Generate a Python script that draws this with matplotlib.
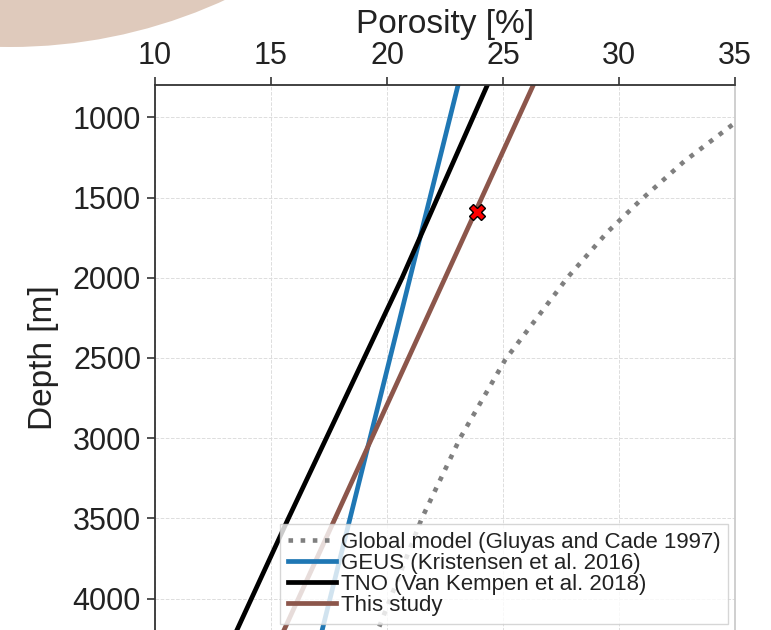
import matplotlib
matplotlib.use("Agg")
import matplotlib.pyplot as plt
from matplotlib.patches import Ellipse

# porosity-depth trends (depth in m, porosity in %)
depth_global = [800, 1050, 1275, 1520, 1715, 1995, 2510, 3000, 3500, 4200]
poro_global = [37.3, 34.85, 32.8, 30.9, 29.5, 27.8, 25.1, 23.15, 21.5, 19.6]

depth_geus = [800, 4200]
poro_geus = [23.06, 17.2]

depth_tno = [800, 2000, 3500, 4200]
poro_tno = [24.32, 20.65, 15.75, 13.52]

depth_study = [800, 4200]
poro_study = [26.30, 15.55]

# measured sample
sample_depth = [1590]
sample_poro = [23.9]

labels = [
    "Global model (Gluyas and Cade 1997)",
    "GEUS (Kristensen et al. 2016)",
    "TNO (Van Kempen et al. 2018)",
    "This study",
]
xticks = [10, 15, 20, 25, 30, 35]
yticks = [1000, 1500, 2000, 2500, 3000, 3500, 4000]

plt.rcParams["font.family"] = ["Liberation Sans", "DejaVu Sans"]

fig = plt.figure(figsize=(7.71, 6.3), dpi=100)

# decorative disc in the top-left corner
fig.patches.append(Ellipse((10 / 771, 1 + 468 / 630), 2 * 515 / 771, 2 * 515 / 630,
                           transform=fig.transFigure, facecolor="#dfcabc",
                           edgecolor="none", zorder=0))

ax = fig.add_axes([155 / 771, -0.001, 580 / 771, 0.8655])

ax.plot(poro_global, depth_global, ls=":", lw=3.3, color="#7f7f7f", label=labels[0])
ax.plot(poro_geus, depth_geus, lw=3.4, color="#1f77b4", label=labels[1])
ax.plot(poro_tno, depth_tno, lw=3.4, color="black", label=labels[2])
ax.plot(poro_study, depth_study, lw=3.4, color="#8c564b", label=labels[3])
ax.plot(sample_poro, sample_depth, ls="none", marker="X", ms=12,
        color="red", mec="black", mew=1, zorder=5)

ax.set_xlim(10, 35)
ax.set_ylim(4200, 800)
ax.set_xticks(xticks)
ax.set_yticks(yticks)

ax.xaxis.tick_top()
ax.xaxis.set_label_position("top")
ax.set_xlabel("Porosity [%]", fontsize=24, labelpad=6, color="#222222")
ax.set_ylabel("Depth [m]", fontsize=24, labelpad=10, color="#222222")
ax.tick_params(axis="both", labelsize=22, length=6, width=1.2, color="#333333",
               labelcolor="#222222", pad=4)

ax.grid(True, ls="--", lw=0.7, color="#dddddd")
ax.set_axisbelow(True)
for side in ["top", "left"]:
    ax.spines[side].set_color("#333333")
    ax.spines[side].set_linewidth(1.3)
for side in ["right", "bottom"]:
    ax.spines[side].set_color("#cccccc")
    ax.spines[side].set_linewidth(1.3)

leg = ax.legend(loc="lower right", fontsize=16, handlelength=2.2, handletextpad=0.2,
                labelspacing=0.0, borderpad=0.35, borderaxespad=0.3,
                fancybox=False, edgecolor="#cccccc", framealpha=0.8)
for t in leg.get_texts():
    t.set_color("#222222")

fig.savefig("out.png", dpi=100)
